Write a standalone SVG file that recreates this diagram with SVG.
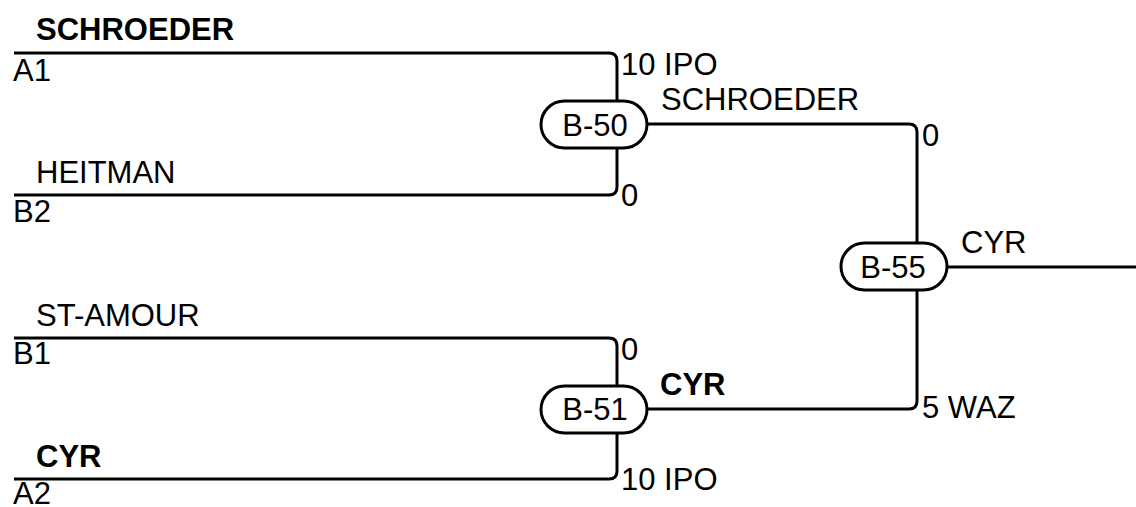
<svg xmlns="http://www.w3.org/2000/svg" width="1136" height="507" viewBox="0 0 1136 507">
<style>
text{font-family:"Liberation Sans",Arial,sans-serif;font-size:31px;fill:#000}
.b{font-weight:bold}
.m{text-anchor:middle}
.ln{fill:none;stroke:#000;stroke-width:3}
.pill{fill:#fff;stroke:#000;stroke-width:3}
</style>
<rect width="1136" height="507" fill="#fff"/>
<g id="connectors">
<path class="ln" d="M14,53 H609 Q617,53 617,61 V101"/>
<path class="ln" d="M14,195 H609 Q617,195 617,187 V148"/>
<path class="ln" d="M14,338 H609 Q617,338 617,346 V386"/>
<path class="ln" d="M14,479 H609 Q617,479 617,471 V433"/>
<path class="ln" d="M647,124 H909 Q917,124 917,132 V243"/>
<path class="ln" d="M647,409 H909 Q917,409 917,401 V290"/>
<path class="ln" d="M947,267 H1136"/>
</g>
<g id="A1">
<text x="36" y="40" class="b">SCHROEDER</text>
<text x="13" y="81">A1</text>
</g>
<g id="B2">
<text x="36" y="183">HEITMAN</text>
<text x="13" y="222">B2</text>
</g>
<g id="B1">
<text x="36" y="326">ST-AMOUR</text>
<text x="13" y="364">B1</text>
</g>
<g id="A2">
<text x="36" y="467" class="b">CYR</text>
<text x="13" y="504">A2</text>
</g>
<g id="B-50">
<rect class="pill" x="541" y="101" width="106" height="47" rx="23.5"/>
<text x="595" y="136" class="m">B-50</text>
<text x="621" y="75">10 IPO</text>
<text x="621" y="206">0</text>
<text x="661" y="110">SCHROEDER</text>
</g>
<g id="B-51">
<rect class="pill" x="541" y="386" width="106" height="47" rx="23.5"/>
<text x="595" y="420" class="m">B-51</text>
<text x="621" y="360">0</text>
<text x="621" y="490">10 IPO</text>
<text x="660" y="395" class="b">CYR</text>
</g>
<g id="B-55">
<rect class="pill" x="841" y="243" width="106" height="47" rx="23.5"/>
<text x="893" y="278" class="m">B-55</text>
<text x="922" y="146">0</text>
<text x="922" y="418">5 WAZ</text>
<text x="961" y="253">CYR</text>
</g>
</svg>
